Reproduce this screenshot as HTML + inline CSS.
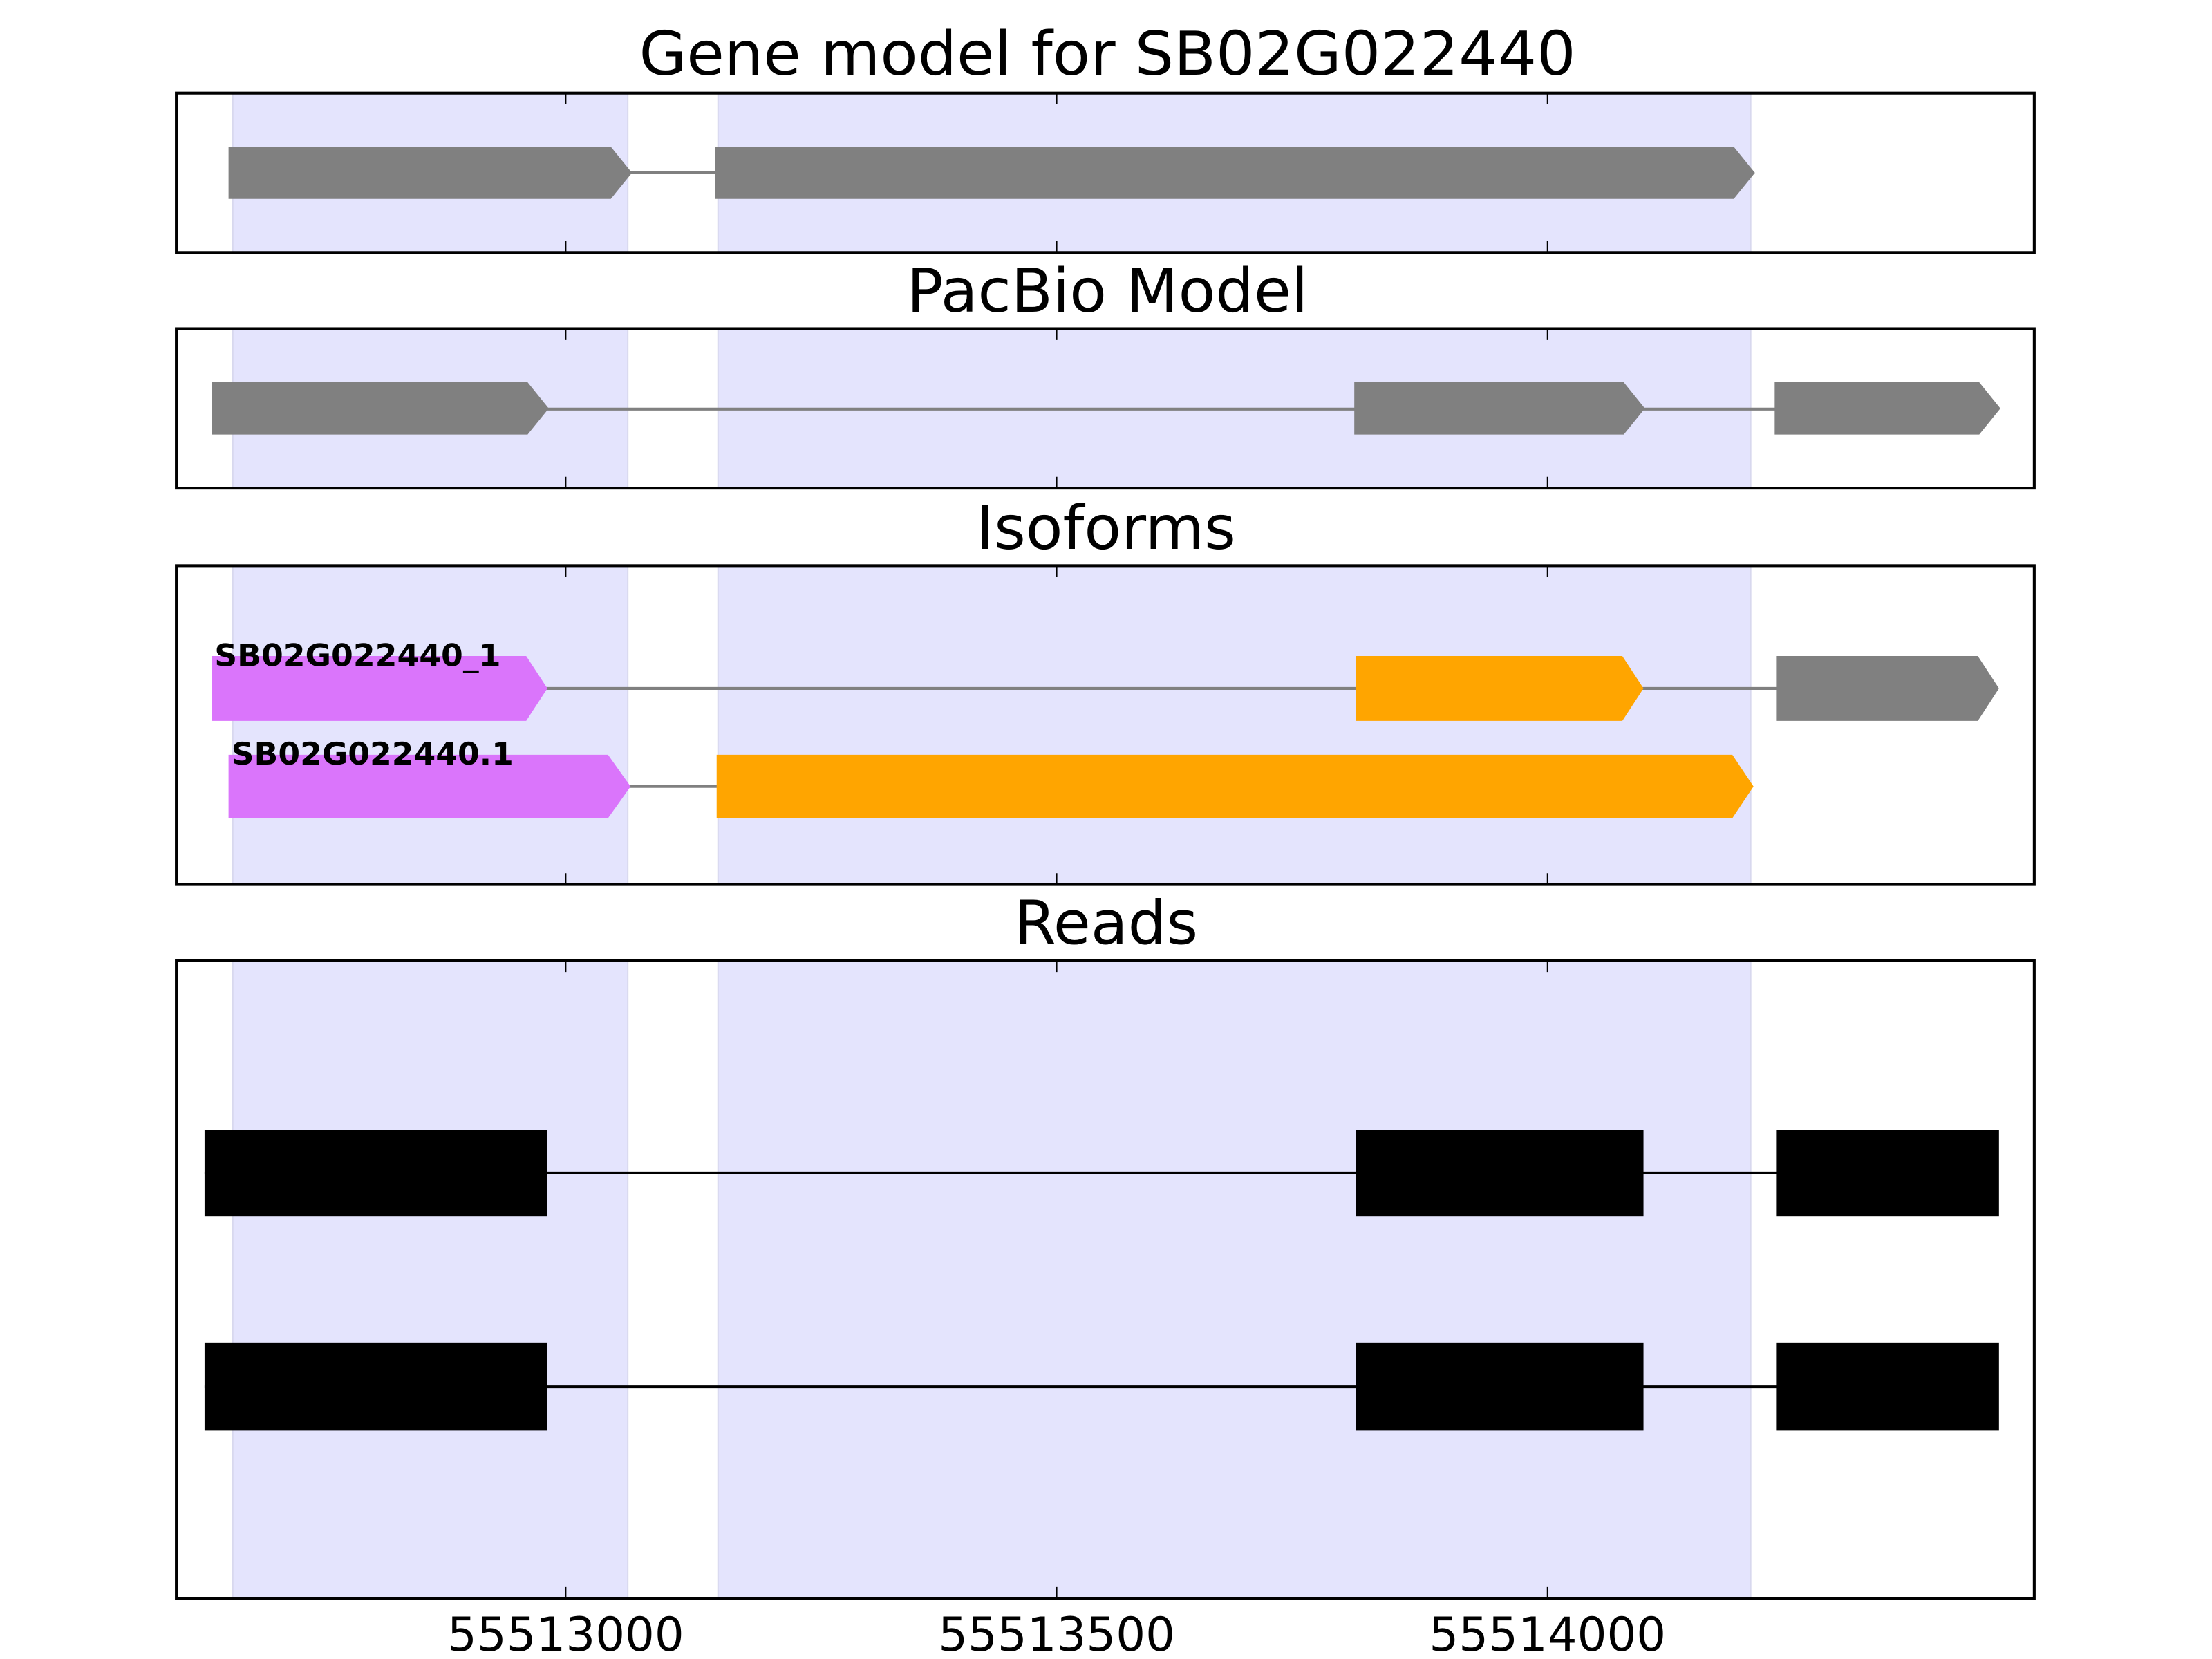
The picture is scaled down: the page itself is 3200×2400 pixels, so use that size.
<!DOCTYPE html>
<html><head><meta charset="utf-8"><style>html,body{margin:0;padding:0;background:#fff}svg{display:block}</style></head>
<body>
<svg width="3200" height="2400" viewBox="0 0 1568 1176" preserveAspectRatio="none" xmlns="http://www.w3.org/2000/svg" font-family="DejaVu Sans, Liberation Sans, sans-serif">
<rect width="1568" height="1176" fill="#fff"/>
<g font-size="43" text-anchor="middle" fill="#000">
<text x="785" y="53" textLength="664" lengthAdjust="spacingAndGlyphs">Gene model for SB02G022440</text>
<text x="785" y="221">PacBio Model</text>
<text x="784" y="389">Isoforms</text>
<text x="784" y="669">Reads</text>
</g>
<!-- shading -->
<g fill="#e4e4fd" stroke="#d8d8ee" stroke-width="1">
<rect x="165" y="66" width="280" height="113"/><rect x="509" y="66" width="732" height="113"/>
<rect x="165" y="233" width="280" height="113"/><rect x="509" y="233" width="732" height="113"/>
<rect x="165" y="401" width="280" height="226"/><rect x="509" y="401" width="732" height="226"/>
<rect x="165" y="681" width="280" height="452"/><rect x="509" y="681" width="732" height="452"/>
</g>
<!-- panel 1 -->
<g fill="#808080">
<line x1="445" y1="122.5" x2="508" y2="122.5" stroke="#808080" stroke-width="2"/>
<polygon points="162,104 433,104 448,122.5 433,141 162,141"/>
<polygon points="507,104 1229,104 1244,122.5 1229,141 507,141"/>
</g>
<!-- panel 2 -->
<g fill="#808080">
<line x1="385" y1="290" x2="1260" y2="290" stroke="#808080" stroke-width="2"/>
<polygon points="150,271 374,271 389,289.5 374,308 150,308"/>
<polygon points="960,271 1151,271 1166,289.5 1151,308 960,308"/>
<polygon points="1258,271 1403,271 1418,289.5 1403,308 1258,308"/>
</g>
<!-- panel 3 -->
<line x1="385" y1="488" x2="1260" y2="488" stroke="#808080" stroke-width="2"/>
<polygon fill="#da75fb" points="150,465 373,465 388,488 373,511 150,511"/>
<polygon fill="#ffa500" points="961,465 1150,465 1165,488 1150,511 961,511"/>
<polygon fill="#808080" points="1259,465 1402,465 1417,488 1402,511 1259,511"/>
<line x1="445" y1="557.5" x2="509" y2="557.5" stroke="#808080" stroke-width="2"/>
<polygon fill="#da75fb" points="162,535 431,535 447,557.5 431,580 162,580"/>
<polygon fill="#ffa500" points="508,535 1228,535 1243,557.5 1228,580 508,580"/>
<g font-size="22" font-weight="bold" fill="#000">
<text x="152" y="472" textLength="203" lengthAdjust="spacingAndGlyphs">SB02G022440_1</text>
<text x="164" y="542" textLength="200" lengthAdjust="spacingAndGlyphs">SB02G022440.1</text>
</g>
<!-- panel 4 -->
<g fill="#000">
<line x1="145" y1="831.5" x2="1260" y2="831.5" stroke="#000" stroke-width="2"/>
<rect x="145" y="801" width="243" height="61"/><rect x="961" y="801" width="204" height="61"/><rect x="1259" y="801" width="158" height="61"/>
<line x1="145" y1="983" x2="1260" y2="983" stroke="#000" stroke-width="2"/>
<rect x="145" y="952" width="243" height="62"/><rect x="961" y="952" width="204" height="62"/><rect x="1259" y="952" width="158" height="62"/>
</g>
<!-- axes frames -->
<g fill="none" stroke="#000" stroke-width="2">
<rect x="125" y="66" width="1317" height="113"/>
<rect x="125" y="233" width="1317" height="113"/>
<rect x="125" y="401" width="1317" height="226"/>
<rect x="125" y="681" width="1317" height="452"/>
</g>
<!-- ticks -->
<g stroke="#000" stroke-width="1">
<path d="M401,66v8M749,66v8M1097,66v8M401,179v-8M749,179v-8M1097,179v-8"/>
<path d="M401,233v8M749,233v8M1097,233v8M401,346v-8M749,346v-8M1097,346v-8"/>
<path d="M401,401v8M749,401v8M1097,401v8M401,627v-8M749,627v-8M1097,627v-8"/>
<path d="M401,681v8M749,681v8M1097,681v8M401,1133v-8M749,1133v-8M1097,1133v-8"/>
</g>
<g font-size="33" text-anchor="middle" fill="#000">
<text x="401" y="1170">55513000</text>
<text x="749" y="1170">55513500</text>
<text x="1097" y="1170">55514000</text>
</g>
</svg>
</body></html>
